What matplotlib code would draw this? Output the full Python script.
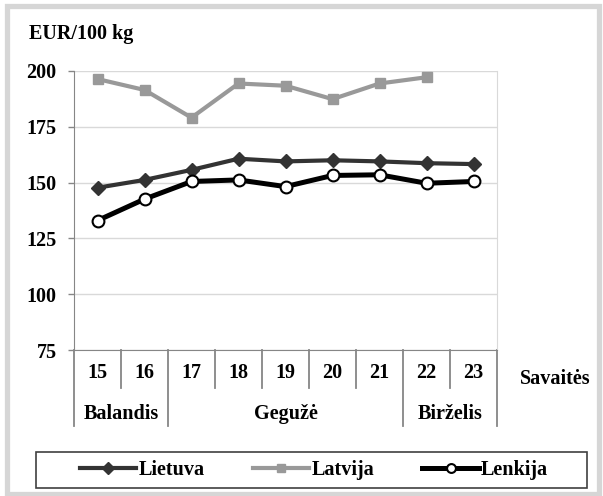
import matplotlib.pyplot as plt
from matplotlib.patches import Rectangle
import numpy as np

# Data
weeks = ['15', '16', '17', '18', '19', '20', '21', '22', '23']
months = ['Balandis', 'Gegužė', 'Birželis']
month_spans = [(0, 1), (2, 6), (7, 8)]
lietuva = [147.7, 151.2, 155.7, 160.7, 159.5, 160.0, 159.5, 158.7, 158.3]
latvija = [196.4, 191.5, 179.1, 194.4, 193.4, 187.4, 194.4, 197.2]
lenkija = [133.0, 142.6, 150.5, 151.2, 148.2, 153.2, 153.5, 149.7, 150.5]

W, H = 603, 496
plt.rcParams['font.family'] = ['Liberation Serif', 'DejaVu Serif']
plt.rcParams['font.weight'] = 'bold'
fs = 14.5

fig = plt.figure(figsize=(W / 100, H / 100), dpi=100)
ax = fig.add_axes([74 / W, 1 - 350 / H, (497 - 74) / W, (350 - 71) / H])

x = np.arange(len(weeks))
ax.plot(x, lietuva, color='#333333', lw=3.0, marker='D', markersize=7.5,
        label='Lietuva', zorder=3)
ax.plot(x[:len(latvija)], latvija, color='#999999', lw=3.0, marker='s',
        markersize=7.5, label='Latvija', zorder=3)
ax.plot(x, lenkija, color='black', lw=3.6, marker='o', markersize=8.5,
        markerfacecolor='white', markeredgecolor='black', markeredgewidth=1.5,
        label='Lenkija', zorder=4)

ax.set_xlim(-0.5, len(weeks) - 0.5)
ax.set_ylim(75, 200)
ax.set_yticks(range(75, 201, 25))
ax.yaxis.grid(True, color='#d9d9d9', lw=1)
ax.set_axisbelow(True)
ax.set_xticks([])
ax.tick_params(axis='y', length=4.5, width=1, color='#868686', pad=8,
               labelsize=fs)
for lab in ax.get_yticklabels():
    lab.set_fontweight('bold')
ax.spines['top'].set_visible(False)
ax.spines['right'].set_color('#d9d9d9')
ax.spines['left'].set_color('#868686')
ax.spines['bottom'].set_color('#868686')

# category axis with two levels
tr = ax.get_xaxis_transform()
month_edges = [-0.5, 1.5, 6.5, 8.5]
for i in range(len(weeks) + 1):
    xe = i - 0.5
    bottom = -0.272 if xe in month_edges else -0.136
    ax.plot([xe, xe], [0, bottom], color='#868686', lw=1.3, transform=tr,
            clip_on=False)
for i, w in enumerate(weeks):
    ax.text(i, -0.082, w, transform=tr, ha='center', va='center',
            fontsize=fs, fontweight='bold')
for m, (a, b) in zip(months, month_spans):
    ax.text((a + b) / 2, -0.229, m, transform=tr, ha='center', va='center',
            fontsize=fs, fontweight='bold')

fig.text(555 / W, 1 - 379 / H, 'Savaitės', ha='center', va='center',
         fontsize=fs, fontweight='bold')
fig.text(29 / W, 1 - 39 / H, 'EUR/100 kg', ha='left', va='baseline',
         fontsize=fs, fontweight='bold')

# legend
leg = fig.legend(loc='center', bbox_to_anchor=(314 / W, 1 - 470 / H),
                 ncol=3, frameon=False, fontsize=fs, handlelength=2.8,
                 handletextpad=0.1, columnspacing=2.4, markerscale=0.75)
for t in leg.get_texts():
    t.set_fontweight('bold')
fig.patches.append(Rectangle((36 / W, 1 - 488 / H), (587 - 36) / W, 36 / H,
                             transform=fig.transFigure, fill=False,
                             edgecolor='#404040', lw=1.2))
# outer frame
fig.patches.append(Rectangle((7 / W, 1 - 494 / H), (599 - 7) / W, (494 - 6) / H,
                             transform=fig.transFigure, fill=False,
                             edgecolor='#d6d6d6', lw=3.8))

fig.savefig('out.png', dpi=100)
